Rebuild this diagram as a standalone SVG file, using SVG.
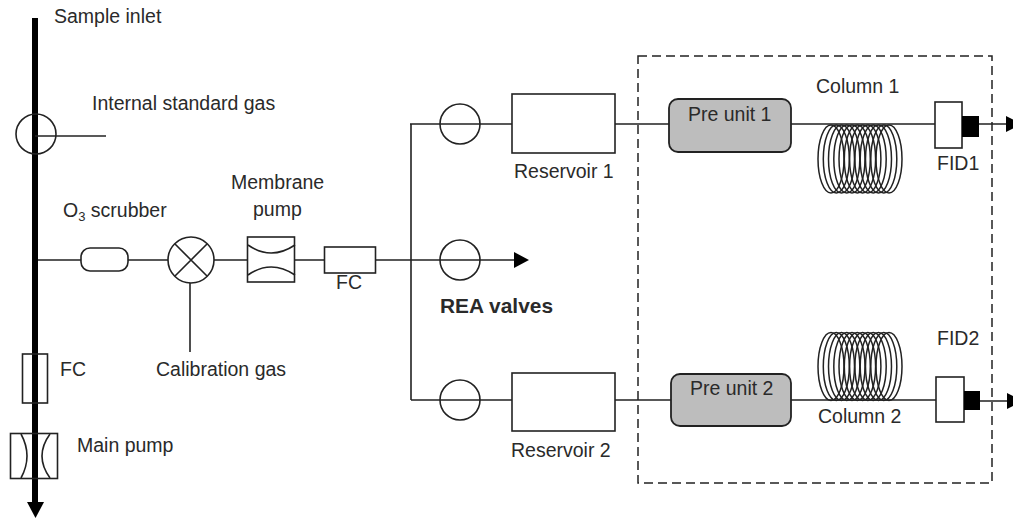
<svg xmlns="http://www.w3.org/2000/svg" width="1013" height="520" viewBox="0 0 1013 520">
<style>
text{font-family:"Liberation Sans",Arial,sans-serif;font-size:19.5px;fill:#2a2a2a}
.l{fill:none;stroke:#222;stroke-width:1.6}
.b{fill:#fff;stroke:#222;stroke-width:1.6}
.p{fill:#bdbdbd;stroke:#222;stroke-width:1.8}
.c{fill:none;stroke:#222;stroke-width:1.5}
</style>
<defs>
<g id="coil">
<ellipse cx="0" cy="0" rx="13" ry="34" class="c"/><ellipse cx="5.3" cy="0" rx="13" ry="34" class="c"/><ellipse cx="10.5" cy="0" rx="13" ry="34" class="c"/><ellipse cx="15.8" cy="0" rx="13" ry="34" class="c"/><ellipse cx="21" cy="0" rx="13" ry="34" class="c"/><ellipse cx="26.3" cy="0" rx="13" ry="34" class="c"/><ellipse cx="31.6" cy="0" rx="13" ry="34" class="c"/><ellipse cx="36.9" cy="0" rx="13" ry="34" class="c"/><ellipse cx="42.2" cy="0" rx="13" ry="34" class="c"/><ellipse cx="47.5" cy="0" rx="13" ry="34" class="c"/><ellipse cx="52.8" cy="0" rx="13" ry="34" class="c"/><ellipse cx="58" cy="0" rx="13" ry="34" class="c"/>
</g>
</defs>
<g id="connectors">
<path d="M35 18V504" fill="none" stroke="#000" stroke-width="6"/>
<path d="M27 502H44L35.5 518Z" fill="#000"/>
<path class="l" d="M35 136H106"/>
<path class="l" d="M38 260H81M128 260H168M214 260H247M295 260H324M376 260H514"/>
<path class="l" d="M190 283V352"/>
<path class="l" d="M411 124V400M410 124H512M615 124H669M791 124H935M979 124H1007"/>
<path class="l" d="M411 400H512M615 400H671M791 400H936M980 401H1008"/>
<path d="M1006 116V132L1022 124Z M1007 393V409L1023 401Z M514 252V268L529 260Z" fill="#000"/>
</g>
<g id="dashed-box"><rect x="638" y="56" width="354" height="427" fill="none" stroke="#222" stroke-width="1.5" stroke-dasharray="9 5"/></g>
<g id="internal-valve"><circle cx="36" cy="134" r="20" class="l"/></g>
<g id="o3-scrubber"><rect x="81" y="248" width="47" height="23" rx="9" class="b"/></g>
<g id="cal-valve"><circle cx="191" cy="260" r="23" class="b"/><path class="l" d="M175 244L207 276M207 244L175 276"/></g>
<g id="membrane-pump"><rect x="247.500" y="237" width="47" height="45" class="b"/><path class="l" d="M248 245Q271 261 295 245M248 275Q271 259 295 275"/></g>
<g id="fc1"><rect x="324.500" y="247" width="51" height="26" class="b"/></g>
<g id="fc2"><rect x="22.500" y="354" width="25" height="49" class="l"/></g>
<g id="main-pump"><rect x="10.500" y="433.500" width="47" height="45" class="l"/><path class="l" d="M21 434Q33 456 21 478M50 434Q34 456 50 478"/></g>
<g id="valve1"><circle cx="460" cy="124" r="20" class="l"/></g>
<g id="valve2"><circle cx="460" cy="260" r="20" class="l"/></g>
<g id="valve3"><circle cx="460" cy="400" r="20" class="l"/></g>
<g id="reservoir1"><rect x="512" y="94" width="103" height="59" class="b"/></g>
<g id="reservoir2"><rect x="512" y="373" width="103" height="58" class="b"/></g>
<g id="pre1"><rect x="669" y="99" width="122" height="53" rx="9" class="p"/></g>
<g id="pre2"><rect x="671" y="374" width="120" height="52" rx="9" class="p"/></g>
<g id="coil1"><use href="#coil" x="831" y="159"/></g>
<g id="coil2"><use href="#coil" x="831" y="366.500"/></g>
<g id="fid1"><rect x="935" y="102" width="27" height="46" class="b"/><rect x="962" y="116" width="17" height="21" fill="#000"/></g>
<g id="fid2"><rect x="936" y="377" width="28" height="45" class="b"/><rect x="964" y="391" width="16" height="19" fill="#000"/></g>
<text x="54" y="23">Sample inlet</text>
<text x="92" y="110">Internal standard gas</text>
<text x="63" y="217">O<tspan font-size="13" dy="4">3</tspan><tspan dy="-4"> scrubber</tspan></text>
<text x="231" y="189">Membrane</text>
<text x="253" y="216">pump</text>
<text x="336" y="289">FC</text>
<text x="60" y="376">FC</text>
<text x="156" y="376">Calibration gas</text>
<text x="77" y="452">Main pump</text>
<text x="440" y="313" font-weight="bold" style="font-size:20.500px" textLength="113" lengthAdjust="spacingAndGlyphs">REA valves</text>
<text x="514" y="178">Reservoir 1</text>
<text x="511" y="457">Reservoir 2</text>
<text x="688" y="121">Pre unit 1</text>
<text x="690" y="395">Pre unit 2</text>
<text x="816" y="93">Column 1</text>
<text x="818" y="423">Column 2</text>
<text x="937" y="170">FID1</text>
<text x="937" y="345">FID2</text>
</svg>
